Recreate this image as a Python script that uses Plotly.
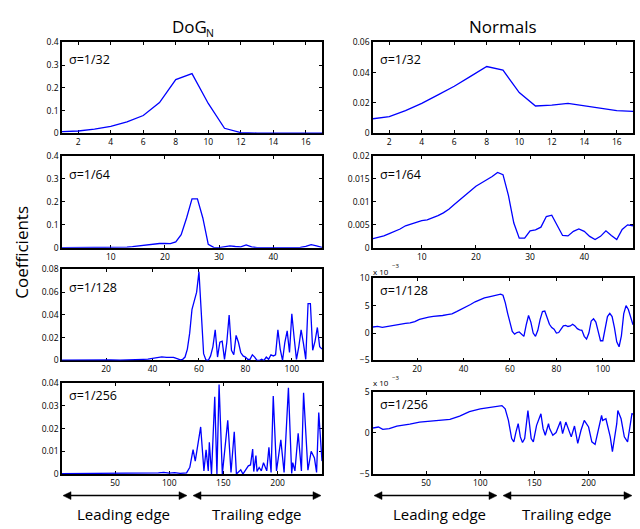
import plotly.graph_objects as go

W, H = 640, 529

# ---------------- data ----------------
x32 = list(range(1, 18))
dog32 = [0.007, 0.010, 0.018, 0.030, 0.050, 0.078, 0.135, 0.236, 0.262, 0.131,
         0.022, 0.003, 0.001, 0.0005, 0.0003, 0.0002, 0.0002]
nrm32 = [0.0096, 0.011, 0.015, 0.0197, 0.0253, 0.031, 0.0375, 0.044, 0.0416, 0.0268,
         0.018, 0.0186, 0.0197, 0.0182, 0.0163, 0.015, 0.0144]

x64 = list(range(1, 50))
dog64 = [0.001, 0.001, 0.002, 0.002, 0.003, 0.002, 0.002, 0.001, 0.001, 0.001,
         0.001, 0.002, 0.003, 0.005, 0.008, 0.011, 0.014, 0.017, 0.019, 0.019,
         0.018, 0.026, 0.057, 0.130, 0.213, 0.213, 0.130, 0.015, 0.002, 0.001,
         0.004, 0.009, 0.006, 0.004, 0.013, 0.004, 0.001, 0.001, 0.001, 0.001,
         0.002, 0.001, 0.001, 0.001, 0.002, 0.006, 0.014, 0.009, 0.002]
nrm64 = [0.0020, 0.0023, 0.0026, 0.0031, 0.0036, 0.0041, 0.0048, 0.0052, 0.0056, 0.0059,
         0.0061, 0.0065, 0.0070, 0.0076, 0.0084, 0.0094, 0.0104, 0.0114, 0.0124, 0.0134,
         0.0141, 0.0148, 0.0155, 0.0164, 0.0159, 0.0114, 0.0054, 0.0021, 0.0021, 0.0037,
         0.0039, 0.0045, 0.0068, 0.0071, 0.0050, 0.0027, 0.0026, 0.0036, 0.0041, 0.0036,
         0.0025, 0.0018, 0.0025, 0.0037, 0.0027, 0.0018, 0.0040, 0.0050, 0.0048]

dog128_x = [1, 5, 10, 15, 18, 20, 22, 26, 30, 34, 36, 38, 40, 42, 44, 46, 48, 49, 50, 52, 53,
            54, 55, 56, 57, 58, 59, 60, 61, 62, 63, 64, 65, 66, 67, 68, 69, 70, 71, 72, 73,
            74, 75, 76, 77, 78, 79, 80, 81, 82, 83, 84, 85, 86, 87, 88, 89, 90, 91, 92, 93,
            94, 95, 96, 97, 98, 99, 100, 101, 102, 103, 104, 105, 106, 107, 108, 109, 110,
            111, 112, 113]
dog128 = [0.0003, 0.0003, 0.0003, 0.0004, 0.0009, 0.0008, 0.0004, 0.0002, 0.0003, 0.0008,
          0.001, 0.0012, 0.002, 0.0025, 0.0032, 0.0028, 0.0026, 0.0028, 0.002, 0.0006, 0.001,
          0.003, 0.010, 0.024, 0.045, 0.052, 0.060, 0.078, 0.040, 0.006, 0.0005, 0.0,
          0.004, 0.012, 0.027, 0.003, 0.016, 0.017, 0.001, 0.016, 0.040, 0.009, 0.005,
          0.022, 0.016, 0.007, 0.004, 0.003, 0.001, 0.001, 0.005, 0.003, 0.0, 0.0, 0.001,
          0.0, 0.003, 0.001, 0.005, 0.004, 0.005, 0.027, 0.010, 0.0, 0.016, 0.026, 0.007,
          0.041, 0.020, 0.001, 0.012, 0.027, 0.015, 0.001, 0.050, 0.050, 0.009, 0.017,
          0.029, 0.012, 0.010]

nrm128_x = [1, 3, 5, 7, 9, 11, 13, 15, 17, 19, 21, 23, 25, 27, 29, 31, 33, 35, 37, 39, 41,
            43, 45, 47, 49, 51, 53, 55, 56, 57, 58, 59, 60, 61, 62, 63, 64, 65, 66, 67, 68,
            69, 70, 71, 72, 73, 74, 75, 76, 77, 78, 79, 80, 81, 82, 83, 84, 85, 86, 87, 88,
            89, 90, 91, 92, 93, 94, 95, 96, 97, 98, 99, 100, 101, 102, 103, 104, 105, 106,
            107, 108, 109, 110, 111, 112, 113]
nrm128 = [1.1, 1.2, 1.05, 1.2, 1.4, 1.45, 1.7, 1.75, 1.85, 2.1, 2.5, 2.75, 2.9, 3.05, 3.1,
          3.2, 3.35, 3.5, 3.9, 4.3, 4.7, 5.2, 5.7, 6.1, 6.4, 6.6, 6.8, 7.0, 7.1, 6.9, 5.5,
          3.6, 1.8, 0.3, -0.2, 0.1, 0.2, -0.3, -0.6, 1.5, 3.2, 2.0, 0.0, -0.6, 0.5, 2.5,
          3.9, 4.0, 2.8, 1.6, 1.0, 0.7, 0.0, 0.1, 0.7, 1.3, 1.4, 1.2, 1.3, 1.6, 1.3, 0.8,
          0.6, 0.5, -0.6, -1.1, 0.0, 2.2, 2.6, 2.0, 0.3, -1.4, -1.4, 0.5, 3.0, 3.6, 3.0,
          1.0, -1.6, -2.5, -0.5, 3.5, 5.0, 4.3, 2.8, 1.5]

dog256_x = [1, 20, 40, 60, 70, 80, 90, 95, 100, 105, 110, 116, 119, 122, 124, 129, 132,
            134, 136, 137, 139, 142, 144, 146, 149, 154, 157, 160, 162, 166, 168, 173, 175,
            177, 178, 180, 181, 183, 185, 187, 190, 192, 194, 196, 199, 203, 206, 210, 213,
            214, 216, 219, 222, 224, 228, 231, 234, 236, 238, 241]
dog256 = [0.0002, 0.0002, 0.0002, 0.0002, 0.0004, 0.0003, 0.0005, 0.0007, 0.0004, 0.0006,
          0.0003, 0.0005, 0.003, 0.0107, 0.0057, 0.0207, 0.0014, 0.0107, 0.0014, 0.014,
          0.0, 0.034, 0.0, 0.0393, 0.0, 0.0236, 0.0007, 0.0186, 0.0, 0.0019, 0.0, 0.0036,
          0.004, 0.011, 0.0011, 0.0081, 0.0011, 0.0029, 0.0014, 0.005, 0.0014, 0.0117,
          0.0007, 0.0343, 0.0014, 0.015, 0.0007, 0.0379, 0.0003, 0.005, 0.0014, 0.0179,
          0.0014, 0.0357, 0.0017, 0.010, 0.0071, 0.0007, 0.027, 0.0057]

nrm256_x = [1, 6, 10, 16, 23, 29, 35, 44, 53, 63, 72, 81, 90, 100, 109, 120, 123, 126,
            129, 131, 133, 135, 137, 139, 141, 144, 147, 149, 152, 156, 158, 160, 163, 164,
            167, 170, 174, 176, 179, 182, 184, 187, 190, 193, 196, 200, 203, 206, 212, 213,
            216, 220, 222, 226, 227, 230, 233, 236, 240, 241]
nrm256 = [0.6, 0.72, 0.44, 0.52, 0.84, 0.92, 1.08, 1.32, 1.4, 1.52, 1.64, 2.04, 2.6, 2.92,
          3.12, 3.32, 2.92, 1.52, -0.68, -1.08, 0.12, 1.12, -0.48, -1.16, -0.68, 2.72,
          -0.68, -1.08, 0.92, 2.32, 0.52, -0.28, 1.12, 0.52, -0.28, 0.04, 1.4, -0.08, 1.32,
          0.32, -0.48, 0.84, -1.28, 0.32, 1.52, 0.72, -1.08, -1.4, 2.12, 1.52, 1.72, -0.48,
          -2.28, 1.12, 2.72, 1.72, -0.48, -1.08, 2.32, 2.3]

xt32 = [2, 4, 6, 8, 10, 12, 14, 16]
xt64 = [10, 20, 30, 40]
xt128 = [20, 40, 60, 80, 100]
xt256 = [50, 100, 150, 200]

yt_dog_a = [0, 0.1, 0.2, 0.3, 0.4]
yl_dog_a = ["0", "0.1", "0.2", "0.3", "0.4"]
yt_dog_c = [0, 0.02, 0.04, 0.06, 0.08]
yl_dog_c = ["0", "0.02", "0.04", "0.06", "0.08"]
yt_dog_d = [0, 0.01, 0.02, 0.03, 0.04]
yl_dog_d = ["0", "0.01", "0.02", "0.03", "0.04"]
yt_nrm_a = [0, 0.02, 0.04, 0.06]
yl_nrm_a = ["0", "0.02", "0.04", "0.06"]
yt_nrm_b = [0, 0.005, 0.01, 0.015, 0.02]
yl_nrm_b = ["0", "0.005", "0.01", "0.015", "0.02"]
yt_nrm_c = [-5, 0, 5, 10]
yl_nrm_c = ["\u22125", "0", "5", "10"]
yt_nrm_d = [-5, 0, 5]
yl_nrm_d = ["\u22125", "0", "5"]

sigma_labels = ["\u03c3=1/32", "\u03c3=1/64", "\u03c3=1/128", "\u03c3=1/256"]
edge_labels = ["Leading edge", "Trailing edge"]

FONT = "Open Sans"

# ---------------- panels ----------------
panels = [
    (x32, dog32, [1, 17], xt32, [0, 0.4], yt_dog_a, yl_dog_a, 37, 130, 0, 0),
    (x32, nrm32, [1, 17], xt32, [0, 0.06], yt_nrm_a, yl_nrm_a, 37, 130, 1, 0),
    (x64, dog64, [1, 49], xt64, [0, 0.4], yt_dog_a, yl_dog_a, 153, 247, 0, 1),
    (x64, nrm64, [1, 49], xt64, [0, 0.02], yt_nrm_b, yl_nrm_b, 153, 247, 1, 1),
    (dog128_x, dog128, [1, 113], xt128, [0, 0.08], yt_dog_c, yl_dog_c, 269, 362, 0, 2),
    (nrm128_x, nrm128, [1, 113], xt128, [-5, 10], yt_nrm_c, yl_nrm_c, 278, 362, 1, 2),
    (dog256_x, dog256, [1, 241], xt256, [0, 0.04], yt_dog_d, yl_dog_d, 385, 478, 0, 3),
    (nrm256_x, nrm256, [1, 241], xt256, [-5, 5], yt_nrm_d, yl_nrm_d, 394, 478, 1, 3),
]

col_px = [(62, 322), (373, 633)]
sigma_y = [[55, 172, 287, 398], [55, 172, 291, 407]]


def px(xp):
    return xp / W


def py(yp):
    return 1 - yp / H


def text_ann(text, x, y, size, xanchor="left", yanchor="middle", angle=0):
    return dict(text=text, xref="paper", yref="paper", x=px(x), y=py(y),
                xanchor=xanchor, yanchor=yanchor, textangle=angle, showarrow=False,
                font=dict(family=FONT, size=size, color="black"))


fig = go.Figure()
layout = dict(
    width=W, height=H,
    margin=dict(l=0, r=0, t=0, b=0),
    paper_bgcolor="white", plot_bgcolor="white",
    showlegend=False,
    font=dict(family=FONT, color="black", size=9),
)
annotations = []
shapes = []

for i, (xs, ys, xr, xt, yr, yt, yl, top, bot, col, row) in enumerate(panels):
    k = i + 1
    xa = "x" if k == 1 else f"x{k}"
    ya = "y" if k == 1 else f"y{k}"
    fig.add_trace(go.Scatter(x=xs, y=ys, mode="lines", xaxis=xa, yaxis=ya,
                             line=dict(color="#0000ff", width=1.3),
                             hoverinfo="skip"))
    x0, x1 = col_px[col]
    axcommon = dict(showline=True, linecolor="black", linewidth=1.6, mirror="allticks",
                    ticks="inside", ticklen=3, tickwidth=1, tickcolor="black",
                    showgrid=False, zeroline=False, layer="below traces",
                    tickfont=dict(family=FONT, size=8.5, color="black"))
    layout["xaxis" if k == 1 else f"xaxis{k}"] = dict(
        domain=[px(x0), px(x1)], range=xr, tickvals=xt,
        ticktext=[str(v) for v in xt], anchor=ya, **axcommon)
    layout["yaxis" if k == 1 else f"yaxis{k}"] = dict(
        domain=[py(bot), py(top)], range=yr, tickvals=yt,
        ticktext=yl, anchor=xa, **axcommon)
    annotations.append(text_ann(sigma_labels[row], x0 + 5, sigma_y[col][row], 12.5))

# column titles ("DoG" with subscript "N" as a separate smaller text)
annotations.append(text_ann("DoG", 170, 21, 17))
annotations.append(text_ann("N", 204, 28, 10.5))
annotations.append(text_ann("Normals", (col_px[1][0] + col_px[1][1]) / 2, 21, 17,
                            xanchor="center"))

# y axis label
annotations.append(text_ann("Coefficients", 22, 252, 17, xanchor="center", angle=-90))

# exponent labels (x 10^-3)
for ybase in (271, 385):
    annotations.append(text_ann("x 10", 371, ybase, 8))
    annotations.append(text_ann("\u22123", 390, ybase - 5, 6))

# edge arrows (double-headed) drawn as shapes, plus labels
edges = [((63, 187), (193, 321)), ((374, 497), (503, 632))]
edge_text_x = [(123, 257), (439, 567)]
AY = 500
HL, HW = 8, 4
for col in range(2):
    for j, (a, b) in enumerate(edges[col]):
        shapes.append(dict(type="line", xref="paper", yref="paper",
                           x0=px(a + HL - 1), x1=px(b - HL + 1), y0=py(AY), y1=py(AY),
                           line=dict(color="black", width=1.5)))
        shapes.append(dict(type="path", xref="paper", yref="paper",
                           path=f"M {px(a)} {py(AY)} L {px(a + HL)} {py(AY - HW)} "
                                f"L {px(a + HL)} {py(AY + HW)} Z",
                           fillcolor="black", line=dict(color="black", width=0.5)))
        shapes.append(dict(type="path", xref="paper", yref="paper",
                           path=f"M {px(b)} {py(AY)} L {px(b - HL)} {py(AY - HW)} "
                                f"L {px(b - HL)} {py(AY + HW)} Z",
                           fillcolor="black", line=dict(color="black", width=0.5)))
        annotations.append(text_ann(edge_labels[j], edge_text_x[col][j], 519, 15,
                                    xanchor="center"))

layout["annotations"] = annotations
layout["shapes"] = shapes
fig.update_layout(**layout)
fig.write_html("out.html")
